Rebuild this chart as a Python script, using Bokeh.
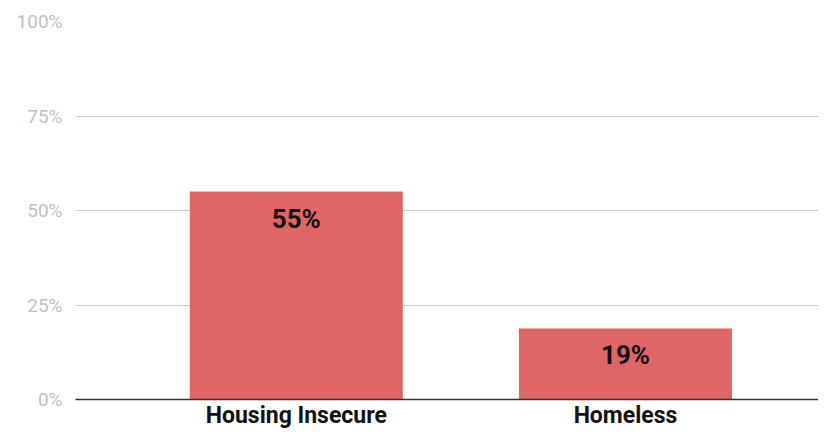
from bokeh.plotting import figure
from bokeh.models import Range1d, FixedTicker, PrintfTickFormatter, ColumnDataSource
from bokeh.core.properties import value
from bokeh.embed import file_html
from bokeh.resources import INLINE

categories = ["Housing Insecure", "Homeless"]
values = [55.0, 18.8]
labels = ["55%", "19%"]
y_ticks = [0, 25, 50, 75, 100]

xs = list(range(len(categories)))
src = ColumnDataSource(dict(x=xs, y=values, label=labels))

p = figure(width=818, height=431, output_backend="svg", toolbar_location=None,
           x_range=Range1d(-0.6707, 1.5863), y_range=Range1d(0, 100),
           min_border_left=75, min_border_right=0, min_border_top=21, min_border_bottom=0)
p.outline_line_color = None
p.background_fill_color = "white"
p.border_fill_color = "white"

p.vbar(x="x", top="y", width=0.647, source=src, fill_color="#e06666", line_color=None)
p.text(x="x", y="y", text="label", source=src, text_align="center", text_baseline="middle",
       y_offset=27, text_font=value("Roboto"), text_font_style="bold", text_font_size="26px",
       text_color="#111111")

p.xgrid.grid_line_color = None
p.ygrid.ticker = FixedTicker(ticks=y_ticks)
p.ygrid.grid_line_color = "#cccccc"
p.ygrid.grid_line_width = 1

ya = p.yaxis[0]
ya.ticker = FixedTicker(ticks=y_ticks)
ya.formatter = PrintfTickFormatter(format="%d%%")
ya.axis_line_color = None
ya.major_tick_line_color = None
ya.minor_tick_line_color = None
ya.major_tick_out = 0
ya.major_tick_in = 0
ya.major_label_standoff = 13
ya.major_label_text_font = "Roboto"
ya.major_label_text_font_size = "19px"
ya.major_label_text_color = "#bfbfbf"

xa = p.xaxis[0]
xa.ticker = FixedTicker(ticks=xs)
xa.major_label_overrides = {i: c for i, c in zip(xs, categories)}
xa.axis_line_color = "#333333"
xa.axis_line_width = 1.5
xa.major_tick_line_color = None
xa.minor_tick_line_color = None
xa.major_tick_out = 0
xa.major_tick_in = 0
xa.major_label_standoff = 2
xa.major_label_text_font = "Roboto"
xa.major_label_text_font_style = "bold"
xa.major_label_text_font_size = "23px"
xa.major_label_text_color = "#111111"

open("out.html", "w").write(file_html(p, INLINE))
